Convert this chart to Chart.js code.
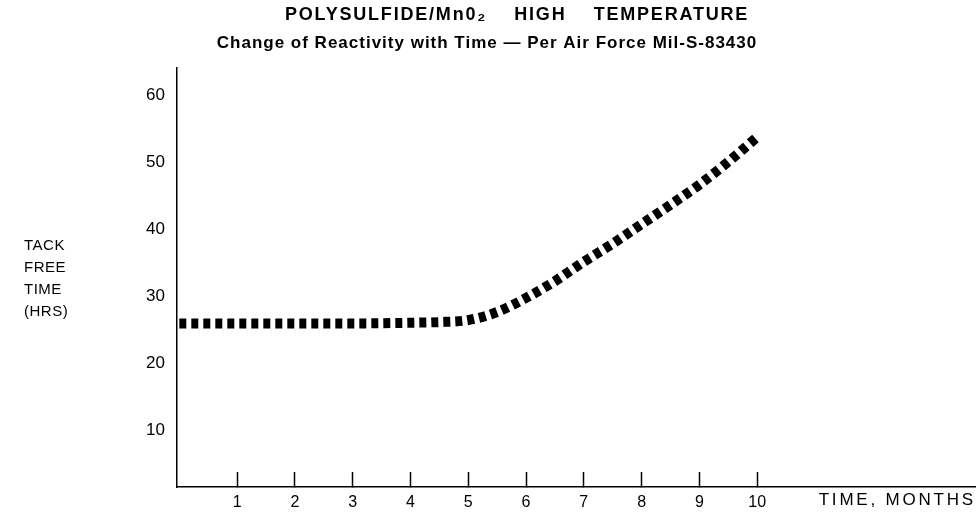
<!DOCTYPE html>
<html>
<head>
<meta charset="utf-8">
<script src="https://cdn.jsdelivr.net/npm/chart.js@4.4.1/dist/chart.umd.min.js"></script>
<style>
  html, body { margin: 0; padding: 0; background: #fff; }
  #wrap { position: relative; width: 976px; height: 512px; }
</style>
</head>
<body>
<div id="wrap"><canvas id="c" width="976" height="512"></canvas></div>
<script>
// ---- chart text ----
const titleLine1 = "POLYSULFIDE/Mn0\u2082    HIGH    TEMPERATURE";
const titleLine2 = "Change of Reactivity with Time \u2014 Per Air Force Mil-S-83430";
const yAxisLabel = ["TACK", "FREE", "TIME", "(HRS)"];
const xAxisLabel = "TIME, MONTHS";

// ---- data ----
const months       = [0, 1, 2, 3, 4, 4.5, 5, 5.5, 6, 6.5, 7, 7.5, 8, 8.5, 9, 9.5, 10];
const tackFreeHrs  = [25.9, 25.9, 25.9, 25.9, 26, 26.1, 26.4, 27.6, 29.7, 32.2, 35.1, 37.8, 40.7, 43.6, 46.6, 50, 53.7];

// ---- tick labels ----
const xTicks = [1, 2, 3, 4, 5, 6, 7, 8, 9, 10];
const yTicks = [10, 20, 30, 40, 50, 60];

const FONT = "'Liberation Sans', Arial, Helvetica, sans-serif";

const textLayer = {
  id: 'textLayer',
  afterDraw(chart) {
    const ctx = chart.ctx;
    const area = chart.chartArea;
    ctx.save();
    ctx.fillStyle = '#000';
    ctx.textBaseline = 'middle';
    // titles
    ctx.textAlign = 'center';
    ctx.font = "bold 18px " + FONT;
    ctx.letterSpacing = '1.8px';
    ctx.fillText(titleLine1, 517, 15);
    ctx.font = "bold 17px " + FONT;
    ctx.letterSpacing = '1px';
    ctx.fillText(titleLine2, 487, 43);
    // y axis label
    ctx.font = "15px " + FONT;
    ctx.letterSpacing = '0.5px';
    ctx.textAlign = 'left';
    yAxisLabel.forEach((t, i) => ctx.fillText(t, 24, 246 + i * 22));
    // x axis label
    ctx.font = "17px " + FONT;
    ctx.letterSpacing = '2.8px';
    ctx.textAlign = 'right';
    ctx.fillText(xAxisLabel, area.right + 1, 500);
    ctx.restore();
  }
};

new Chart(document.getElementById('c'), {
  type: 'line',
  data: {
    datasets: [{
      data: months.map((m, i) => ({ x: m, y: tackFreeHrs[i] })),
      borderColor: '#000',
      borderWidth: 10,
      borderDash: [7, 5],
      borderCapStyle: 'butt',
      cubicInterpolationMode: 'monotone',
      pointRadius: 0,
      fill: false
    }]
  },
  options: {
    responsive: false,
    animation: false,
    devicePixelRatio: 1,
    layout: { padding: { top: 68, right: 1, bottom: 0, left: 0 } },
    plugins: { legend: { display: false }, tooltip: { enabled: false }, title: { display: false } },
    scales: {
      x: {
        type: 'linear',
        min: -0.04,
        max: 13.77,
        afterBuildTicks: s => { s.ticks = xTicks.map(v => ({ value: v })); },
        afterFit: s => { s.height = 25; s.paddingLeft = 0; s.paddingRight = 0; },
        grid: { drawOnChartArea: false, drawTicks: true, tickLength: -15, tickColor: '#000', tickWidth: 1.5 },
        border: { display: true, color: '#000', width: 1.5 },
        ticks: { autoSkip: false, maxRotation: 0, padding: 21, color: '#000', font: { family: FONT, size: 16 } }
      },
      y: {
        type: 'linear',
        min: 1.5,
        max: 64,
        afterBuildTicks: s => { s.ticks = yTicks.map(v => ({ value: v })); },
        afterFit: s => { s.width = 177; s.paddingTop = 0; s.paddingBottom = 0; },
        grid: { display: false, drawTicks: false },
        border: { display: true, color: '#000', width: 1.5 },
        ticks: { padding: 12, color: '#000', font: { family: FONT, size: 17 } }
      }
    }
  },
  plugins: [textLayer]
});
</script>
</body>
</html>
